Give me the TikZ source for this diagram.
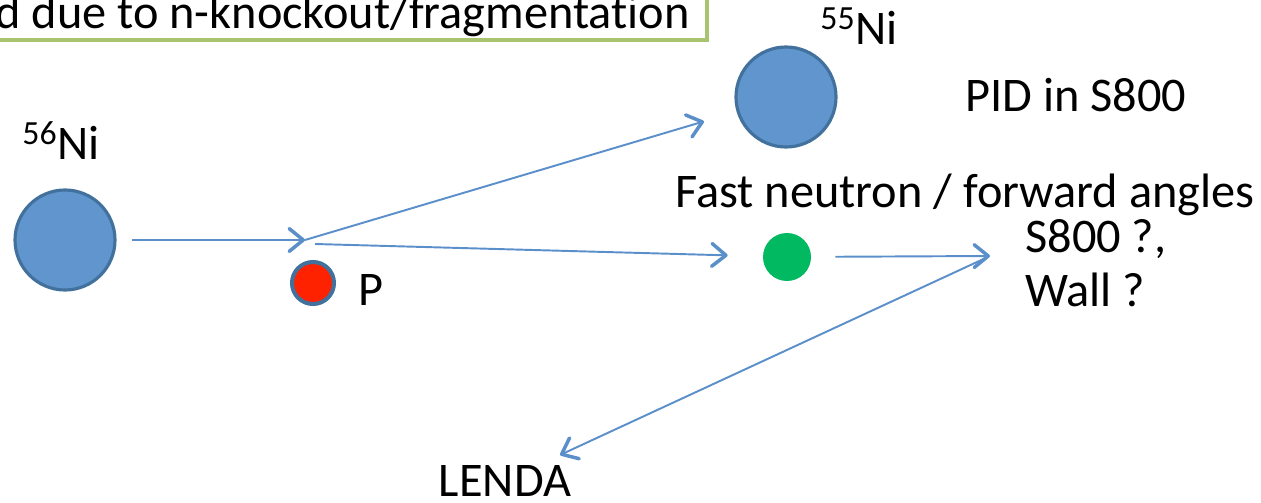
\documentclass[tikz,border=0pt]{standalone}
\usepackage{fontspec}
\setmainfont{Carlito}[Ligatures=CommonOff]
\usepackage{xcolor}
\usetikzlibrary{arrows.meta}

\definecolor{beamblue}{HTML}{5B8FCA}
\definecolor{nucblue}{HTML}{6096CD}
\definecolor{rimblue}{HTML}{41719C}
\definecolor{boxgreen}{HTML}{A9C46E}
\definecolor{protonred}{HTML}{FF2200}
\definecolor{neutrongreen}{HTML}{00B960}

\tikzset{
  nucleus/.style={circle, inner sep=0pt, minimum size=2cm, fill=nucblue, draw=rimblue, line width=1.8pt},
  beam/.style={beamblue, line width=1.1pt, -{Straight Barb[length=8pt,width=13pt,line width=2pt,round]}},
  lbl/.style={inner sep=0pt, font=\fontsize{27.5}{30.6}\selectfont}
}

\begin{document}
\begin{tikzpicture}
    \clip (0,0) rectangle (25.22,10.04);
    % \draw[help lines] (0,0) grid (25,10);

    % title box
    \draw[boxgreen, line width=2.3pt, fill=white] (-1,9.24) rectangle (14.14,11);
    \node[lbl, anchor=base east] (title) at (13.80,9.46) {d due to n-knockout/fragmentation};

    % nuclei
    \node[nucleus] (ni56) at (1.30,5.24) {};
    \node[lbl, anchor=base west] (ni56lbl) at (0.44,6.84) {\textsuperscript{56}Ni};
    \node[nucleus] (ni55) at (15.72,8.10) {};
    \node[lbl, anchor=base west] (ni55lbl) at (16.40,9.14) {\textsuperscript{55}Ni};

    % proton target and neutron
    \node[circle, inner sep=0pt, minimum size=0.84cm, fill=protonred, draw=rimblue, line width=2.3pt] (prot) at (6.26,4.38) {};
    \node[lbl, anchor=base west] (plbl) at (7.16,3.94) {P};
    \node[circle, inner sep=0pt, minimum size=0.96cm, fill=neutrongreen] (neut) at (15.74,4.90) {};

    % labels
    \node[lbl, anchor=base west] (pid) at (19.30,7.80) {PID in S800};
    \node[lbl, anchor=base west] (fast) at (13.50,5.88) {Fast neutron / forward angles};
    \node[lbl, anchor=north west, align=left] (det) at (20.50,5.66) {S800 ?,\\ Wall ?};
    \node[lbl, anchor=base] (lenda) at (10.10,0.12) {LENDA};

    % reaction points
    \coordinate (hit) at (6.10,5.24);
    \coordinate (hitb) at (6.30,5.16);
    \coordinate (s800) at (19.80,4.92);
    \coordinate (lendatip) at (11.20,0.94);

    % arrows
    \draw[beam, shorten <=0.3cm] (ni56) -- (hit);
    \draw[beam, shorten >=0.68cm] (hit) -- (ni55);
    \draw[beam, shorten >=0.7cm] (hitb) -- (neut);
    \draw[beam, shorten <=0.48cm] (neut) -- (s800);
    \draw[beam, shorten <=0.1cm] (s800) -- (lendatip);
\end{tikzpicture}
\end{document}
